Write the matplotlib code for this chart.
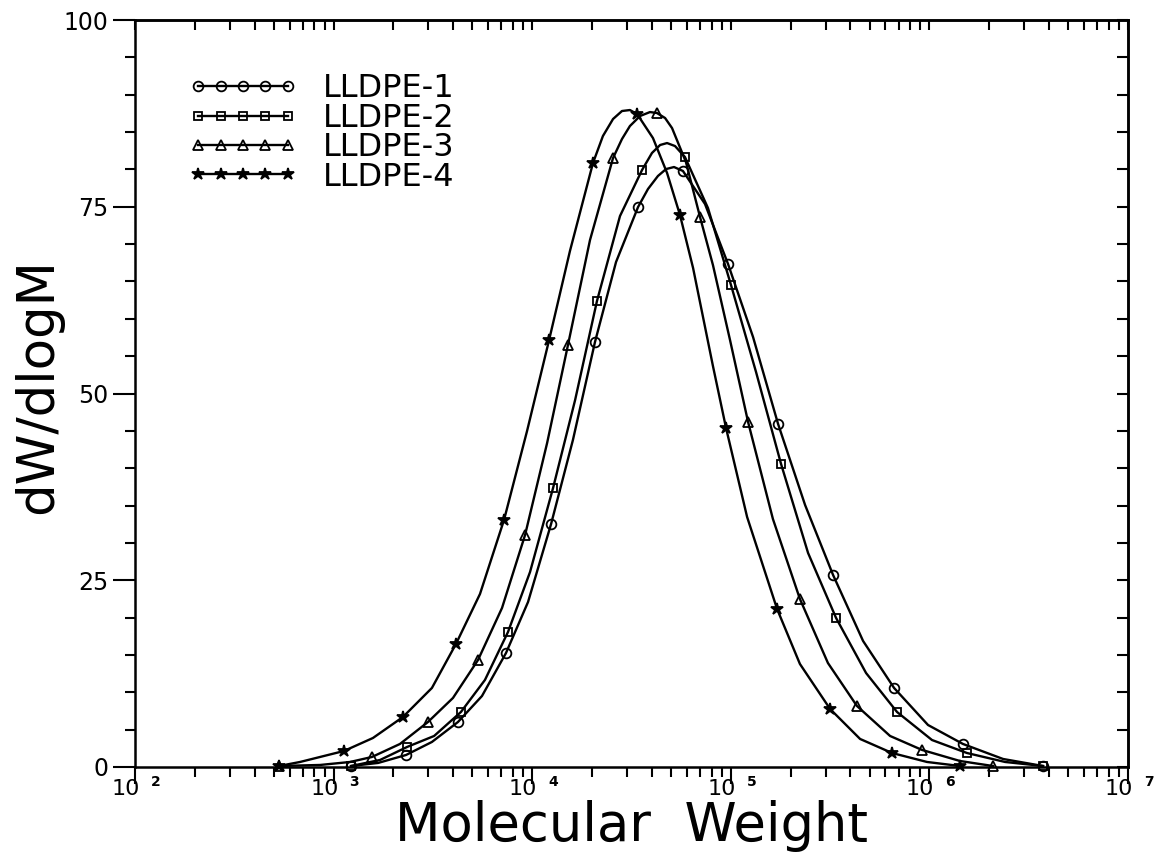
import matplotlib
matplotlib.use("Agg")
import numpy as np
import matplotlib.pyplot as plt
from matplotlib.lines import Line2D
from matplotlib.ticker import LogLocator, MultipleLocator, NullFormatter, FixedLocator

# --- data: log10(M) and dW/dlogM ---
# full curve traces
c1_logm = [3.088, 3.224, 3.365, 3.495, 3.626, 3.747, 3.868, 3.979, 4.095, 4.205, 4.316, 4.422,
           4.533, 4.583, 4.633, 4.674, 4.714, 4.759, 4.870, 4.986, 5.112, 5.238, 5.374, 5.515,
           5.666, 5.822, 5.993, 6.169, 6.371, 6.572]
c1_val = [0.13, 0.54, 1.61, 3.35, 6.02, 9.50, 15.26, 22.09, 32.53, 43.78, 56.89, 67.60,
          74.97, 77.38, 79.12, 80.05, 80.32, 79.79, 75.37, 67.34, 57.56, 45.92, 35.07, 25.70,
          16.87, 10.58, 5.62, 3.08, 1.07, 0.13]

c2_logm = [3.088, 3.234, 3.370, 3.506, 3.641, 3.762, 3.878, 3.989, 4.105, 4.216, 4.326, 4.442,
           4.553, 4.603, 4.644, 4.679, 4.719, 4.769, 4.885, 5.001, 5.127, 5.253, 5.389, 5.530,
           5.681, 5.837, 6.013, 6.189, 6.381, 6.572]
c2_val = [0.13, 0.94, 2.68, 4.15, 7.36, 11.65, 18.07, 26.10, 37.35, 49.13, 62.38, 73.76,
          79.92, 82.20, 83.27, 83.53, 83.13, 81.66, 74.83, 64.52, 52.88, 40.56, 28.65, 19.95,
          12.58, 7.36, 3.61, 1.87, 0.67, 0.13]

c3_logm = [2.725, 2.932, 3.083, 3.193, 3.334, 3.475, 3.601, 3.727, 3.848, 3.964, 4.075, 4.180,
           4.291, 4.407, 4.452, 4.492, 4.543, 4.593, 4.628, 4.669, 4.704, 4.774, 4.845, 4.910,
           4.996, 5.087, 5.212, 5.348, 5.489, 5.635, 5.802, 5.963, 6.154, 6.320]
c3_val = [0.13, 0.27, 0.67, 1.34, 3.08, 6.02, 9.24, 14.32, 21.29, 31.06, 43.37, 56.49,
          70.55, 81.53, 84.07, 85.81, 87.15, 87.68, 87.55, 86.88, 85.54, 80.99, 73.63, 67.20,
          57.16, 46.18, 33.20, 22.49, 13.92, 8.17, 4.15, 2.28, 0.80, 0.13]

c4_logm = [2.725, 2.831, 3.052, 3.198, 3.349, 3.495, 3.616, 3.737, 3.858, 3.974, 4.085, 4.190,
           4.306, 4.356, 4.407, 4.452, 4.492, 4.528, 4.608, 4.679, 4.744, 4.810, 4.910, 4.976,
           5.082, 5.233, 5.348, 5.500, 5.651, 5.812, 5.988, 6.154]
c4_val = [0.13, 0.67, 2.14, 3.88, 6.69, 10.58, 16.47, 23.16, 33.07, 44.98, 57.16, 69.08,
          80.86, 84.47, 86.75, 87.82, 87.95, 87.42, 84.20, 79.52, 73.90, 66.80, 53.68, 45.38,
          33.47, 21.15, 13.79, 7.76, 3.75, 1.87, 0.67, 0.13]

# marker positions
m1_logm = [3.088, 3.365, 3.626, 3.868, 4.095, 4.316, 4.533, 4.759, 4.986, 5.238, 5.515, 5.822, 6.169, 6.572]
m1_val = [0.13, 1.61, 6.02, 15.26, 32.53, 56.89, 74.97, 79.79, 67.34, 45.92, 25.70, 10.58, 3.08, 0.13]
m2_logm = [3.088, 3.370, 3.641, 3.878, 4.105, 4.326, 4.553, 4.769, 5.001, 5.253, 5.530, 5.837, 6.189, 6.572]
m2_val = [0.13, 2.68, 7.36, 18.07, 37.35, 62.38, 79.92, 81.66, 64.52, 40.56, 19.95, 7.36, 1.87, 0.13]
m3_logm = [2.725, 3.193, 3.475, 3.727, 3.964, 4.180, 4.407, 4.628, 4.845, 5.087, 5.348, 5.635, 5.963, 6.320]
m3_val = [0.13, 1.34, 6.02, 14.32, 31.06, 56.49, 81.53, 87.55, 73.63, 46.18, 22.49, 8.17, 2.28, 0.13]
m4_logm = [2.725, 3.052, 3.349, 3.616, 3.858, 4.085, 4.306, 4.528, 4.744, 4.976, 5.233, 5.500, 5.812, 6.154]
m4_val = [0.13, 2.14, 6.69, 16.47, 33.07, 57.16, 80.86, 87.42, 73.90, 45.38, 21.15, 7.76, 1.87, 0.13]

labels = ["LLDPE-1", "LLDPE-2", "LLDPE-3", "LLDPE-4"]
decades = [2, 3, 4, 5, 6, 7]
y_major = [0, 25, 50, 75, 100]

series = [
    (c1_logm, c1_val, m1_logm, m1_val, dict(marker="o", ms=7, mfc="none")),
    (c2_logm, c2_val, m2_logm, m2_val, dict(marker="s", ms=6, mfc="none")),
    (c3_logm, c3_val, m3_logm, m3_val, dict(marker="^", ms=7, mfc="none")),
    (c4_logm, c4_val, m4_logm, m4_val, dict(marker="*", ms=9, mfc="black")),
]

fig = plt.figure(figsize=(11.58, 8.56), dpi=100)
ax = fig.add_axes([0.1166, 0.104, 0.8575, 0.8726])

handles = []
for (cx, cy, mx, my, mk), lab in zip(series, labels):
    ax.plot(10 ** np.array(cx), cy, color="black", lw=1.7, solid_joinstyle="round")
    ax.plot(10 ** np.array(mx), my, linestyle="none", color="black", mec="black",
            mew=1.3, clip_on=False, **mk)
    handles.append(Line2D([], [], color="black", lw=1.7, mec="black", mew=1.3, **mk))

ax.set_xscale("log")
ax.set_xlim(1e2, 1e7)
ax.set_ylim(0, 100)

for s in ax.spines.values():
    s.set_linewidth(1.8)

# bottom / left ticks point outward
ax.xaxis.set_major_locator(FixedLocator([10.0 ** k for k in decades]))
ax.xaxis.set_minor_locator(LogLocator(base=10, subs=range(2, 10)))
ax.xaxis.set_major_formatter(NullFormatter())
ax.xaxis.set_minor_formatter(NullFormatter())
ax.yaxis.set_major_locator(FixedLocator(y_major))
ax.yaxis.set_minor_locator(MultipleLocator(5))
ax.tick_params(axis="both", which="major", direction="out", width=1.5, length=12,
               top=False, right=False)
ax.tick_params(axis="both", which="minor", direction="out", width=1.5, length=7,
               top=False, right=False)
ax.tick_params(axis="y", which="major", length=16, labelsize=17, pad=3)

# top / right ticks point inward
top = ax.secondary_xaxis("top")
top.xaxis.set_major_locator(FixedLocator([10.0 ** k for k in decades]))
top.xaxis.set_minor_locator(LogLocator(base=10, subs=range(2, 10)))
top.xaxis.set_major_formatter(NullFormatter())
top.xaxis.set_minor_formatter(NullFormatter())
top.tick_params(which="both", direction="in", width=1.5, length=7)
top.spines["top"].set_linewidth(1.8)

right = ax.secondary_yaxis("right")
right.yaxis.set_major_locator(FixedLocator(y_major))
right.yaxis.set_minor_locator(MultipleLocator(5))
right.yaxis.set_major_formatter(NullFormatter())
right.tick_params(which="both", direction="in", width=1.5, length=8)
right.spines["right"].set_linewidth(1.8)

# x tick labels "10 ^k"
for k in decades:
    ax.annotate("10", xy=(10.0 ** k, 0), xycoords=("data", "axes fraction"),
                xytext=(5, -12), textcoords="offset pixels", ha="right", va="top", fontsize=16)
    ax.annotate(str(k), xy=(10.0 ** k, 0), xycoords=("data", "axes fraction"),
                xytext=(16, -8), textcoords="offset pixels", ha="left", va="top",
                fontsize=10, fontweight="bold")

ax.set_xlabel("Molecular  Weight", fontsize=38)
ax.xaxis.set_label_coords(0.5, -0.079)
ax.xaxis.label.set_va("center")
ax.set_ylabel("dW/dlogM", fontsize=37)
ax.yaxis.set_label_coords(-0.098, 0.51)
ax.yaxis.label.set_va("center")

ax.legend(handles, labels, loc="upper left", bbox_to_anchor=(0.025, 0.967), frameon=False,
          numpoints=5, handlelength=3.4, fontsize=23, labelspacing=-0.05, handletextpad=0.8)

fig.savefig("out.png", dpi=100)
